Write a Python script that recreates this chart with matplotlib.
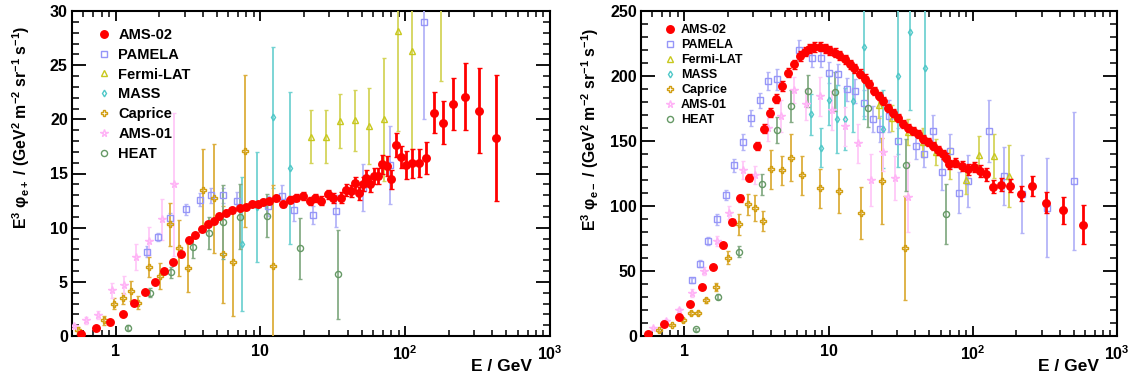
import matplotlib
matplotlib.use('Agg')
import matplotlib.pyplot as plt
from matplotlib.ticker import LogLocator, MultipleLocator, NullFormatter, FixedLocator, FixedFormatter
from matplotlib.lines import Line2D

plt.rcParams['font.family'] = ['Liberation Sans', 'DejaVu Sans']
plt.rcParams['font.weight'] = 'bold'
plt.rcParams['mathtext.fontset'] = 'custom'
plt.rcParams['mathtext.rm'] = 'Liberation Sans:bold'
plt.rcParams['mathtext.it'] = 'Liberation Sans:bold'
plt.rcParams['mathtext.bf'] = 'Liberation Sans:bold'
plt.rcParams['mathtext.default'] = 'bf'

# ---------------- positron data (E^3 flux) ----------------
ams02_pos_E = [0.575,0.73,0.92,1.12,1.33,1.59,1.87,2.15,2.48,2.83,3.2,3.56,3.93,4.37,4.8,5.2,5.8,6.4,7.2,7.9,
               8.8,9.6,10.4,11.5,12.8,14.3,15.9,17.6,19.6,21.9,23.7,26.3,29.3,31.8,36.3,39.3,42.5,45.3,48,51.2,
               54,57.5,60.7,65,68.9,74.3,79.5,86,92.9,102,112,124,140,158,181,214,258,323,423]
ams02_pos_v = [0.21,0.77,1.32,2.0,3.08,4.09,5.01,6.0,6.86,7.6,8.83,9.33,9.85,10.3,10.6,11.08,11.4,11.6,11.8,11.9,
               12.2,12.15,12.4,12.45,12.75,12.2,12.6,12.75,12.9,12.45,12.77,12.5,13.07,12.77,12.77,13.5,13.4,14.1,13.2,14.0,
               14.6,14.0,14.77,14.77,15.84,15.7,14.46,17.6,16.5,15.78,15.93,16.0,16.43,20.6,19.7,21.4,22.1,20.8,18.3]
ams02_pos_err = [0.1,0.1,0.1,0.1,0.1,0.12,0.12,0.15,0.15,0.15,0.17,0.17,0.18,0.18,0.2,0.2,0.2,0.2,0.2,0.22,
                 0.22,0.24,0.25,0.25,0.28,0.3,0.3,0.32,0.35,0.35,0.38,0.4,0.42,0.45,0.48,0.55,0.55,0.6,0.6,0.65,
                 0.7,0.7,0.75,0.75,0.85,0.9,0.9,1.1,1.0,1.3,1.3,1.3,1.5,1.9,2.0,2.4,3.1,3.9,5.8]

pamela_pos_E = [1.66,1.97,2.39,3.08,3.83,4.54,5.55,6.9,11.2,14.0,17.0,23.1,33.1,51,78,135]
pamela_pos_v = [7.78,9.14,10.86,11.7,12.6,13.0,13.0,12.5,12.0,12.9,11.6,11.17,11.54,13.7,15.8,29.0]
pamela_pos_err = [0.5,0.4,0.5,0.5,0.6,0.7,0.7,0.8,0.9,1.0,1.0,0.8,1.5,2.2,3.6,9.0]

fermi_pos_E = [22.5,28.3,35.5,45,56.3,71,89,112,178]
fermi_pos_v = [18.4,18.4,19.85,19.9,19.4,20.0,28.2,26.3,34.0]
fermi_pos_err = [2.46,2.46,2.5,2.85,3.5,5.7,9.3,9.0,10.5]

mass_pos_E = [7.5,9.4,12.2,16]
mass_pos_v = [8.5,11.9,20.2,15.5]
mass_pos_err = [6.2,5.1,6.5,7.0]

caprice_pos_E = [0.546,0.836,0.98,1.13,1.28,1.43,1.69,2.02,2.39,2.76,3.14,4.04,4.77,5.55,6.52,7.86,12.2]
caprice_pos_v = [0.52,1.45,3.0,3.47,4.15,3.05,6.37,5.54,10.3,8.15,6.25,13.5,12.7,7.54,6.86,17.08,6.46]
caprice_pos_err = [0.3,0.4,0.5,0.5,0.9,0.6,0.9,1.2,2.0,2.6,2.2,3.8,5.0,4.5,5.0,7.0,7.5]

ams01_pos_E = [0.52,0.62,0.76,0.94,1.14,1.38,1.71,2.09,2.54]
ams01_pos_v = [0.92,1.45,1.94,4.22,4.7,7.29,8.77,10.77,14.0]
ams01_pos_err = [0.2,0.3,0.4,0.7,0.8,1.2,1.3,1.9,6.6]

heat_pos_E = [1.21,1.73,2.41,3.45,4.44,5.48,7.2,11.1,18.9,34.4]
heat_pos_v = [0.77,4.0,5.9,8.2,9.5,10.5,11.0,11.1,8.1,5.7]
heat_pos_err = [0.2,0.4,0.5,1.0,1.5,3.4,3.0,2.0,2.8,4.1]

# ---------------- electron data (E^3 flux) ----------------
ams02_ele_E = [0.558,0.727,0.91,1.1,1.33,1.57,1.84,2.13,2.44,2.79,3.17,3.55,3.9,4.34,4.75,5.22,5.74,6.29,6.81,7.37,
               7.98,8.65,9.37,10.1,11.0,11.9,12.9,14.0,15.1,16.4,17.8,19.2,20.8,22.5,23.7,25.7,27.8,30.1,32.6,35.3,
               38.3,41.4,44.9,48.6,52.6,57,61.7,65,68.7,75.1,83.9,91.9,102,112,123,138,158,181,215,259,324,424,584]
ams02_ele_v = [1.8,9.0,14.6,24.4,37.9,53.1,69.7,87.7,105.9,121.8,146.2,159.5,171.8,182.6,192.3,202.6,209,215.4,218.7,221,
               222.3,222.6,221.3,219.7,217.9,215.9,212.8,209,205.9,201.8,198,193.6,188.5,184.6,180.8,175.6,171.8,167.4,163.3,159.7,
               157.7,155.1,151.3,149.2,146.2,142.8,139.7,137.2,132.1,133.3,130.8,128.2,130,126.9,124.4,114.9,116.2,115.4,109.5,115.6,
               102.6,96.7,85.7]
ams02_ele_err = [0.5,0.8,1,1.2,1.5,1.8,2,2.2,2.5,2.8,3,3.2,3.3,3.4,3.5,3.6,3.6,3.6,3.6,3.6,
                 3.6,3.6,3.6,3.6,3.5,3.5,3.4,3.4,3.3,3.3,3.2,3.2,3.1,3.1,3.0,3.0,3.0,3.0,3.0,3.0,
                 3.0,3.0,3.0,3.0,3.1,3.2,3.3,3.4,3.5,3.6,3.8,4,4.2,4.5,4.8,5,5,5,5.8,7.7,8.3,10.5,14.7]

pamela_ele_E = [1.12,1.28,1.46,1.68,1.93,2.22,2.55,2.9,3.32,3.81,4.38,6.2,7.65,8.8,10.1,11.7,13.4,15.3,17.5,20.2,
                22.7,26.4,30.5,40.3,46.1,53.2,60.7,69.7,79.6,91.9,130,165,221,325,503]
pamela_ele_v = [42.8,55.6,73.1,89.7,108.5,131.5,149.2,167.9,181.3,196.2,197.4,220,214.1,214.1,202.6,201.3,189.7,188.5,179.5,167.2,
                159.5,169.2,150,146.2,140.3,157.7,126.2,142.3,110.3,119.2,157.7,123.1,109,98.7,119.2]
pamela_ele_err = [2,2.5,3,4,4,5,6,6,6,7,8,8,7,7,8,8,9,9,10,10,
                  10,12,10,10,10,12,14,13,16,20,24,22,30,38,53]

fermi_ele_E = [22.4,27.6,35.5,45,55.5,69.7,90,111,140,177]
fermi_ele_v = [177.7,168,157,149,141.8,133,120,139.5,138.5,123]
fermi_ele_err = [10,10,10,11,10,12,11,14,17,24]

mass_ele_E = [7.53,8.83,10.1,11.5,13.0,14.7,17.6,23.9,30.1,36.7,46.4]
mass_ele_v = [170.5,144.9,181.3,166.7,167,180.8,222.3,159,200,233.8,206.4]
mass_ele_err = [16,15,19,26,24,24,55,30,70,60,57]

caprice_ele_E = [0.67,0.82,0.97,1.11,1.25,1.41,1.66,2.02,2.38,2.75,3.1,3.5,4.0,4.74,5.5,6.52,8.67,11.8,16.7,23.3,33.7]
caprice_ele_v = [4.4,8.5,12.1,17.9,17.9,27.4,37.7,60.3,85.9,101.3,98.7,88.5,128.2,127.4,137.2,123.8,113.6,111.5,94.9,119.2,67.9]
caprice_ele_err = [1,1,1.5,1.5,1.5,2,3,5,8,8,10,8,15,11,18,15,15,17,20,33,40]

ams01_ele_E = [0.61,0.75,0.92,1.12,1.37,1.68,2.05,2.54,3.1,3.77,4.67,5.71,6.96,8.67,10.6,12.9,16.1,19.6,23.7,28.9,35.6]
ams01_ele_v = [5.9,11.5,19.7,33.3,50,73.1,94.9,127.4,123.8,159.7,169.2,189,178.2,184.6,173.6,161.5,148.2,119.7,141.8,121.3,106.9]
ams01_ele_err = [1,1.5,2,3,3,4,5,7,7,10,12,10,12,15,15,15,15,20,15,17,27]

heat_ele_E = [1.2,1.7,2.4,3.43,4.38,5.5,7.18,11.1,18.9,34.2,65.6]
heat_ele_v = [5.1,30.3,64.9,116.7,158.5,176.9,188.5,188,175.6,131.5,93.6]
heat_ele_err = [1,2,4,8,10,12,12,15,15,20,23]

labels = ['AMS-02', 'PAMELA', 'Fermi-LAT', 'MASS', 'Caprice', 'AMS-01', 'HEAT']

# style: marker, color, markersize, filled, errorbar color
styles = {
    'AMS-02':    ('o', '#FF0000', 5.4, True,  '#FF0000'),
    'PAMELA':    ('s', '#9696F8', 4.2, False, '#B4B4F8'),
    'Fermi-LAT': ('^', '#C8C81E', 4.4, False, '#D4D45A'),
    'MASS':      ('d', '#50C8C8', 3.4, False, '#72D2D2'),
    'Caprice':   ('P', '#D29E12', 5.0, False, '#DCAE3C'),
    'AMS-01':    ('*', '#FFB4F6', 5.6, False, '#FFC8F8'),
    'HEAT':      ('o', '#669966', 4.4, False, '#86AC86'),
}

pos_series = {
    'AMS-02': (ams02_pos_E, ams02_pos_v, ams02_pos_err),
    'PAMELA': (pamela_pos_E, pamela_pos_v, pamela_pos_err),
    'Fermi-LAT': (fermi_pos_E, fermi_pos_v, fermi_pos_err),
    'MASS': (mass_pos_E, mass_pos_v, mass_pos_err),
    'Caprice': (caprice_pos_E, caprice_pos_v, caprice_pos_err),
    'AMS-01': (ams01_pos_E, ams01_pos_v, ams01_pos_err),
    'HEAT': (heat_pos_E, heat_pos_v, heat_pos_err),
}
ele_series = {
    'AMS-02': (ams02_ele_E, ams02_ele_v, ams02_ele_err),
    'PAMELA': (pamela_ele_E, pamela_ele_v, pamela_ele_err),
    'Fermi-LAT': (fermi_ele_E, fermi_ele_v, fermi_ele_err),
    'MASS': (mass_ele_E, mass_ele_v, mass_ele_err),
    'Caprice': (caprice_ele_E, caprice_ele_v, caprice_ele_err),
    'AMS-01': (ams01_ele_E, ams01_ele_v, ams01_ele_err),
    'HEAT': (heat_ele_E, heat_ele_v, heat_ele_err),
}

fig = plt.figure(figsize=(11.29, 3.78), dpi=100)
W, H = 1129.0, 378.0
axL = fig.add_axes([72/W, 1-336/H, (550-72)/W, (336-11)/H])
axR = fig.add_axes([641/W, 1-336/H, (1117-641)/W, (336-11)/H])


def draw(ax, series, ymax, ymajor, yminor, leg_fs, leg_anchor, leg_spacing, leg_pad):
    order = ['PAMELA', 'Fermi-LAT', 'MASS', 'Caprice', 'AMS-01', 'HEAT', 'AMS-02']
    for name in order:
        E, v, err = series[name]
        m, c, ms, filled, ec = styles[name]
        is_ams = name == 'AMS-02'
        ax.errorbar(E, v, yerr=err, fmt=m, color=c, ecolor=ec,
                    ms=ms, mfc=c if filled else 'none', mec=c, mew=1.0,
                    elinewidth=2.0 if is_ams else 1.3, capsize=1.8 if is_ams else 1.5,
                    capthick=1.2, zorder=5 if is_ams else 3, linestyle='none')
    ax.set_xscale('log')
    ax.set_xlim(0.5, 1000)
    ax.set_ylim(0, ymax)
    ax.xaxis.set_major_locator(FixedLocator([1, 10, 100, 1000]))
    ax.xaxis.set_major_formatter(FixedFormatter(['1', '10', r'$10^{2}$', r'$10^{3}$']))
    ax.xaxis.set_minor_locator(LogLocator(base=10, subs=[2, 3, 4, 5, 6, 7, 8, 9], numticks=20))
    ax.xaxis.set_minor_formatter(NullFormatter())
    ax.yaxis.set_major_locator(MultipleLocator(ymajor))
    ax.yaxis.set_minor_locator(MultipleLocator(yminor))
    ax.tick_params(axis='x', which='major', direction='in', length=7, width=1.3, top=True, bottom=True,
                   labelsize=11.5, pad=6)
    ax.tick_params(axis='x', which='minor', direction='in', length=4, width=1.1, top=True, bottom=True)
    ax.tick_params(axis='y', which='major', direction='in', length=10, width=1.3, left=True, right=True,
                   labelsize=11.5, pad=3)
    ax.tick_params(axis='y', which='minor', direction='in', length=5, width=1.1, left=True, right=True)
    for lab in ax.get_xticklabels() + ax.get_yticklabels():
        lab.set_fontweight('bold')
    for s in ax.spines.values():
        s.set_linewidth(1.5)
    handles = []
    for name in labels:
        m, c, ms, filled, ec = styles[name]
        handles.append(Line2D([], [], marker=m, linestyle='none', color=c, ms=ms,
                              mfc=c if filled else 'none', mec=c, mew=1.0))
    ax.legend(handles, labels, loc='upper left', bbox_to_anchor=leg_anchor, frameon=False,
              prop={'size': leg_fs, 'weight': 'bold'}, handlelength=1.0, handletextpad=leg_pad,
              labelspacing=leg_spacing, borderaxespad=0.0, borderpad=0.0)
    ax.text(0.962, -0.095, 'E / GeV', transform=ax.transAxes, ha='right', va='center',
            fontsize=12.5, fontweight='bold')


draw(axL, pos_series, 30, 5, 1, 10.5, (0.052, 0.948), 0.40, 0.46)
draw(axR, ele_series, 250, 50, 10, 9, (0.048, 0.960), 0.24, 0.38)

axL.text(-0.106, 0.955, r'E$^{3}$ φ$_{e+}$ / (GeV$^{2}$ m$^{-2}$ sr$^{-1}$ s$^{-1}$)', transform=axL.transAxes,
         rotation=90, ha='center', va='top', fontsize=11.3, fontweight='bold')
axR.text(-0.106, 0.950, r'E$^{3}$ φ$_{e-}$ / (GeV$^{2}$ m$^{-2}$ sr$^{-1}$ s$^{-1}$)', transform=axR.transAxes,
         rotation=90, ha='center', va='top', fontsize=11.3, fontweight='bold')

fig.savefig('out.png', dpi=100)
